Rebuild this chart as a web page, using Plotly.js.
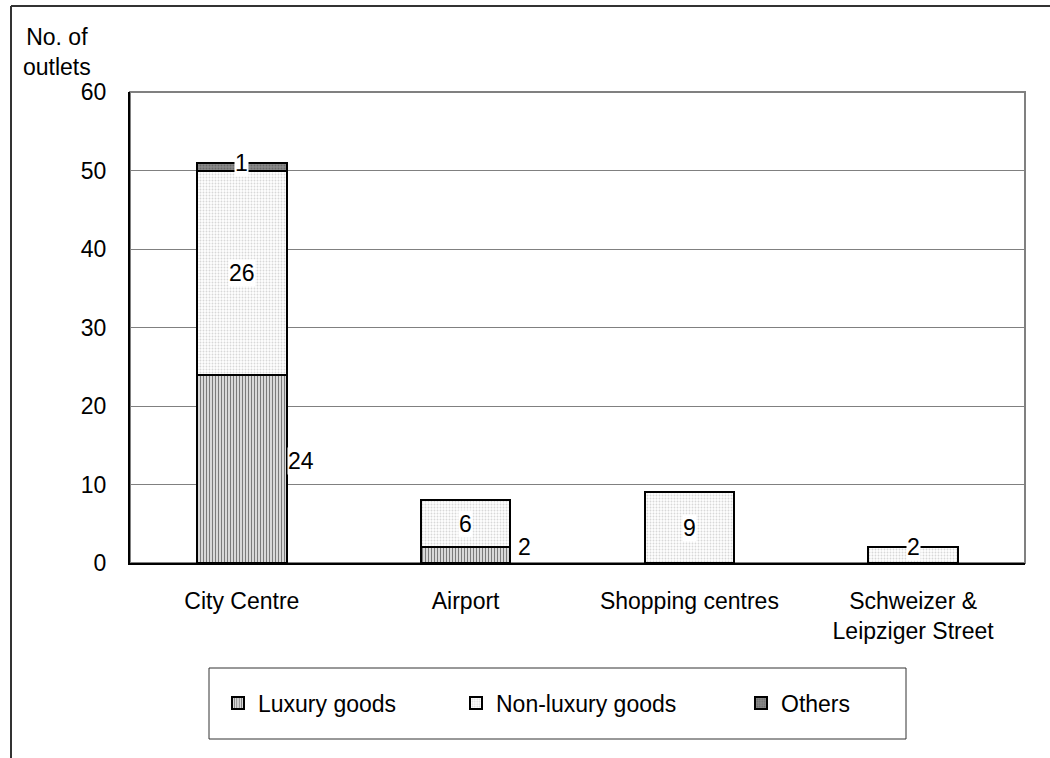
<!DOCTYPE html>
<html>
<head>
<meta charset="utf-8">
<script src="https://cdn.plot.ly/plotly-3.0.1.min.js"></script>
<style>html,body{margin:0;padding:0;background:#fff;}#chart{width:1050px;height:758px;}</style>
</head>
<body>
<div id="chart"></div>
<script>
var categories = ['City Centre', 'Airport', 'Shopping centres', 'Schweizer &<br>Leipziger Street'];
var luxury = [24, 2, 0, 0];
var nonLuxury = [26, 6, 9, 2];
var others = [1, 0, 0, 0];
var seriesNames = ['Luxury goods', 'Non-luxury goods', 'Others'];
var yTicks = [0, 10, 20, 30, 40, 50, 60];

var FONT = 'Liberation Sans, Arial, sans-serif';
var FS = 23;
var L = 130, R = 25, T = 92, B = 195, W = 1050, H = 758;
var pw = W - L - R, ph = H - T - B;
function px(x) { return (x - L) / pw; }
function py(y) { return (H - B - y) / ph; }

var lineStyle = {color: '#000', width: 2};
var traces = [
  {type: 'bar', name: seriesNames[0], x: categories, y: luxury, legend: 'legend',
   marker: {color: '#c8c8c8', line: lineStyle, pattern: {shape: '|', fgcolor: '#7a7a7a', bgcolor: '#d8d8d8', size: 3, solidity: 0.35}},
   hoverinfo: 'skip'},
  {type: 'bar', name: seriesNames[1], x: categories, y: nonLuxury, legend: 'legend2',
   marker: {color: '#f4f4f4', line: lineStyle, pattern: {shape: '.', fgcolor: '#d8d8d8', bgcolor: '#ffffff', size: 3, solidity: 0.3}},
   hoverinfo: 'skip'},
  {type: 'bar', name: seriesNames[2], x: categories, y: others, legend: 'legend3',
   marker: {color: '#808080', line: lineStyle, pattern: {shape: '.', fgcolor: '#6a6a6a', bgcolor: '#8a8a8a', size: 3, solidity: 0.3}},
   hoverinfo: 'skip'}
];

var annotations = [];
var labelFont = {family: FONT, size: FS, color: '#000'};
for (var i = 0; i < categories.length; i++) {
  if (luxury[i] > 0) {
    annotations.push({x: categories[i], y: luxury[i] / 2, xref: 'x', yref: 'y', text: String(luxury[i]),
      showarrow: false, xshift: 59, yshift: 8, bgcolor: '#fff', borderpad: 0, font: labelFont});
  }
  if (nonLuxury[i] > 0) {
    var base = luxury[i];
    var yv = nonLuxury[i] < 3 ? base + nonLuxury[i] : base + nonLuxury[i] / 2;
    annotations.push({x: categories[i], y: yv, xref: 'x', yref: 'y', text: String(nonLuxury[i]),
      showarrow: false, bgcolor: '#fff', borderpad: 0, font: labelFont});
  }
  if (others[i] > 0) {
    annotations.push({x: categories[i], y: luxury[i] + nonLuxury[i] + others[i], xref: 'x', yref: 'y', text: String(others[i]),
      showarrow: false, bgcolor: '#fff', borderpad: 0, font: labelFont});
  }
}
annotations.push({xref: 'paper', yref: 'paper', x: px(57), y: py(52), xanchor: 'center', yanchor: 'middle',
  text: 'No. of<br>outlets', showarrow: false, align: 'center', font: {family: FONT, size: FS, color: '#000'}});

var legendBase = {orientation: 'h', yanchor: 'middle', xanchor: 'left', bgcolor: 'rgba(0,0,0,0)', borderwidth: 0,
  font: {family: FONT, size: FS, color: '#000'}};
function leg(xpx) { return Object.assign({}, legendBase, {x: px(xpx), y: py(703)}); }

var layout = {
  width: W, height: H,
  margin: {l: L, r: R, t: T, b: B},
  paper_bgcolor: '#fff', plot_bgcolor: '#fff',
  barmode: 'stack', bargap: 0.6,
  font: {family: FONT, size: FS, color: '#000'},
  showlegend: true,
  legend: leg(218), legend2: leg(456), legend3: leg(741),
  xaxis: {type: 'category', showline: true, linecolor: '#000', linewidth: 2, ticks: '', showgrid: false,
    tickfont: {family: FONT, size: FS, color: '#000'}, ticklabelstandoff: 16, fixedrange: true},
  yaxis: {range: [0, 60], tickvals: yTicks, showline: true, linecolor: '#000', linewidth: 2, ticks: '',
    showgrid: true, gridcolor: '#808080', gridwidth: 1, zeroline: false,
    tickfont: {family: FONT, size: FS, color: '#000'}, ticklabelstandoff: 17, fixedrange: true},
  annotations: annotations,
  shapes: [
    {type: 'rect', xref: 'paper', yref: 'paper', x0: 0, x1: 1, y0: 0, y1: 1, line: {color: '#808080', width: 2}, layer: 'below'},
    {type: 'rect', xref: 'paper', yref: 'paper', x0: px(209), x1: px(906), y0: py(668), y1: py(739), line: {color: '#333', width: 1}},
    {type: 'line', xref: 'paper', yref: 'paper', x0: px(11), x1: px(1060), y0: py(6), y1: py(6), line: {color: '#333', width: 2}},
    {type: 'line', xref: 'paper', yref: 'paper', x0: px(11), x1: px(11), y0: py(6), y1: py(770), line: {color: '#333', width: 2}}
  ]
};

Plotly.newPlot('chart', traces, layout, {staticPlot: true, displayModeBar: false});
</script>
</body>
</html>
